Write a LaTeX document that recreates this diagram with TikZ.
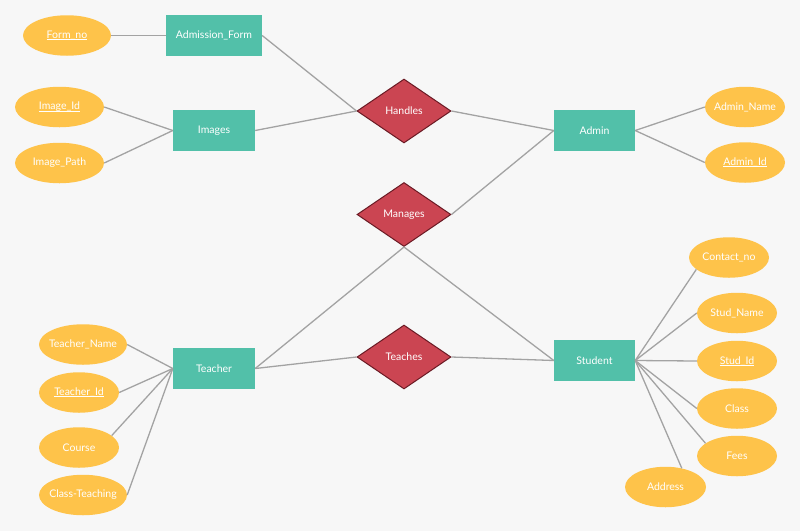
\documentclass[tikz,border=0pt]{standalone}
\usepackage{fontspec}
\setmainfont{Lato}
\usetikzlibrary{shapes.geometric}
\definecolor{bgc}{HTML}{F7F7F7}
\definecolor{entc}{HTML}{52C0A9}
\definecolor{attc}{HTML}{FEC34A}
\definecolor{relc}{HTML}{CB4552}
\definecolor{relb}{HTML}{6A1A24}
\definecolor{linec}{HTML}{A3A3A3}
\newcommand\undl[1]{\setbox0\hbox{#1}\rlap{\rule[-1.3pt]{\wd0}{0.6pt}}\box0}
\tikzset{
  x=1pt,y=-1pt,
  every node/.style={font=\fontsize{10.5}{12}\selectfont, text=white, inner sep=0pt},
  entity/.style={rectangle, fill=entc, minimum height=41pt},
  attr/.style={ellipse, fill=attc, minimum height=40.5pt},
  rel/.style={diamond, fill=relc, draw=relb, line width=1pt, minimum width=94pt, minimum height=64pt, aspect=1.5},
  conn/.style={draw=linec, line width=1.3pt},
}
\newcommand\zb[1]{\makebox[0pt]{#1}}
\begin{document}
\begin{tikzpicture}
\fill[bgc] (0,0) rectangle (800,531);
\useasboundingbox (0,0) rectangle (800,531);
% entities
\node[entity, minimum width=96pt] (adform) at (214,35.5) {Admission\_Form};
\node[entity, minimum width=82pt] (images) at (214,130.5) {Images};
\node[entity, minimum width=81pt] (admin) at (594.5,130.5) {Admin};
\node[entity, minimum width=82pt] (teacher) at (214,368.5) {Teacher};
\node[entity, minimum width=81pt] (student) at (594.5,360.5) {Student};
% relationships
\node[rel] (handles) at (404,111) {Handles};
\node[rel] (manages) at (404,214.5) {Manages};
\node[rel] (teaches) at (404,357) {Teaches};
% attributes
\node[attr, minimum width=88pt] (formno) at (67,35.5) {\zb{\undl{Form\_no}}};
\node[attr, minimum width=89pt] (imgid) at (59.5,107) {\zb{\undl{Image\_Id}}};
\node[attr, minimum width=89pt] (imgpath) at (59.5,163) {\zb{Image\_Path}};
\node[attr, minimum width=80pt] (adname) at (745,107) {\zb{Admin\_Name}};
\node[attr, minimum width=80pt] (adid) at (745,162.5) {\zb{\undl{Admin\_Id}}};
\node[attr, minimum width=88pt] (tname) at (83,344.5) {\zb{Teacher\_Name}};
\node[attr, minimum width=80pt] (tid) at (79,392.5) {\zb{\undl{Teacher\_Id}}};
\node[attr, minimum width=80pt] (course) at (79,447.5) {\zb{Course}};
\node[attr, minimum width=88pt] (classt) at (83,495) {\zb{Class-Teaching}};
\node[attr, minimum width=80pt] (contact) at (729,257.5) {\zb{Contact\_no}};
\node[attr, minimum width=80pt] (sname) at (737,313) {\zb{Stud\_Name}};
\node[attr, minimum width=80pt] (sid) at (737,361) {\zb{\undl{Stud\_Id}}};
\node[attr, minimum width=80pt] (sclass) at (737,408.5) {\zb{Class}};
\node[attr, minimum width=80pt] (fees) at (737,456) {\zb{Fees}};
\node[attr, minimum width=81pt] (address) at (665.5,487) {\zb{Address}};
% connectors
\draw[conn] (formno.east) -- (adform.west);
\draw[conn] (adform.east) -- (handles.west);
\draw[conn] (images.east) -- (handles.west);
\draw[conn] (imgid.east) -- (images.west);
\draw[conn] (imgpath.east) -- (images.west);
\draw[conn] (handles.east) -- (admin.west);
\draw[conn] (manages.east) -- (admin.west);
\draw[conn] (admin.east) -- (adname.west);
\draw[conn] (admin.east) -- (adid.west);
\draw[conn] (manages.south) -- (teacher.east);
\draw[conn] (manages.south) -- (student.west);
\draw[conn] (teacher.east) -- (teaches.west);
\draw[conn] (teaches.east) -- (student.west);
\draw[conn] (teacher.west) -- (tname.east);
\draw[conn] (teacher.west) -- (tid.east);
\draw[conn] (teacher.west) -- (course.20);
\draw[conn] (teacher.west) -- (classt.east);
\draw[conn] (student.east) -- (contact.200);
\draw[conn] (student.east) -- (sname.west);
\draw[conn] (student.east) -- (sid.west);
\draw[conn] (student.east) -- (sclass.west);
\draw[conn] (student.east) -- (fees.158);
\draw[conn] (student.east) -- (address.49);
\end{tikzpicture}
\end{document}
